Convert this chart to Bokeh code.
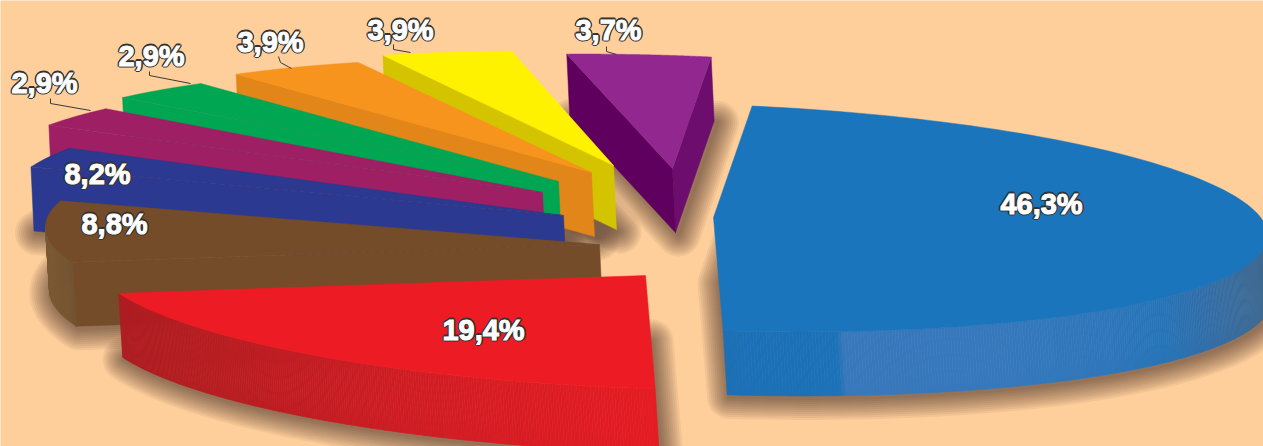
import numpy as np
from bokeh.plotting import figure
from bokeh.models import ColumnDataSource
from bokeh.core.properties import value
from bokeh.embed import file_html
from bokeh.resources import INLINE

# ---- values printed in the chart
names = ["blue", "red", "brown", "navy", "magenta", "green", "orange", "yellow", "purple"]
shares = [46.3, 19.4, 8.8, 8.2, 2.9, 2.9, 3.9, 3.9, 3.7]
# ---- sweep of each slice as drawn in the picture (degrees) and where it starts
sweep_drawn = [175, 73, 31.4, 11, 11, 11.7, 15, 14, 15]
start_angle = [86, 271, 198, 164, 153, 141.9, 129.9, 114.6, 101]

# ---- layout: exploded apex of each slice, in page pixels
apex_x = [713, 645, 599, 563, 542, 558, 591, 613, 672]
apex_y = [217, 275, 244, 215, 192, 181, 172, 165, 168]
label_x = [1041, 483, 114, 97, 44, 151, 270, 400, 608]
label_y = [203, 329, 223, 173, 82, 55, 41, 29, 29]

top_colors = ["#1B75BC", "#ED1C24", "#754C29", "#2B3990", "#9E1F63", "#00A651", "#F7941D", "#FFF200", "#92278F"]
face_colors = [None, None, "#754C29", "#2B3990", "#9E1F63", "#00A651", "#E2861A", "#D4C400", "#5F005F"]

leader_xs = [[50, 50, 90], [149, 149, 190], [278, 280, 291], [393, 393, 410], [606, 606, 616]]
leader_ys = [[98, 103, 110], [71, 75, 83], [56, 62, 68], [44, 49, 52], [46, 51, 54]]

BG = "#FECE9B"
RX, RY, SHEAR, DEPTH = 554.0, 113.0, 18.0, 64.0

p = figure(width=1263, height=446, x_range=(0, 1263), y_range=(446, 0),
           toolbar_location=None, output_backend="svg", min_border=0,
           background_fill_color=BG, border_fill_color=BG, outline_line_color=None)
p.axis.visible = False
p.grid.visible = False


def rim(ax, ay, deg):
    t = np.radians(deg)
    return ax + RX * np.cos(t), ay - RY * np.sin(t) + SHEAR * np.cos(t)


def hex2rgb(h):
    return np.array([int(h[i:i + 2], 16) for i in (1, 3, 5)], float)


def ramp(x, stops):
    xs = [s[0] for s in stops]
    cs = np.array([hex2rgb(s[1]) for s in stops])
    rgb = [np.interp(x, xs, cs[:, i]) for i in range(3)]
    return "#%02x%02x%02x" % tuple(int(round(v)) for v in rgb)


def band(ax, ay, a0, a1, stops, n):
    """Curved outer wall of a slice, as thin quads whose colour follows x."""
    th = np.linspace(a0, a1, n + 1)
    X, Y = rim(ax, ay, th)
    xs, ys, cols = [], [], []
    for i in range(n):
        xs.append([X[i], X[i + 1], X[i + 1] + 4, X[i] + 4])
        ys.append([Y[i], Y[i + 1], Y[i + 1] + DEPTH, Y[i] + DEPTH])
        cols.append(ramp((X[i] + X[i + 1]) / 2, stops))
    p.patches(xs, ys, fill_color=cols, line_color=cols, line_width=0.6)


walls = {
    "blue": (0, -89, [(722, "#1B70B6"), (835, "#1B72B9"), (842, "#3878BD"), (1000, "#3578BD"),
                      (1100, "#2E77BC"), (1160, "#2574B9"), (1200, "#2F6EAC"), (1263, "#3E6A92")]),
    "red": (198, 271, [(118, "#AE1C22"), (250, "#BC1C22"), (400, "#CF1C24"), (650, "#E51C24")]),
    "brown": (180, 198, [(45, "#7D5C37"), (60, "#785733"), (75, "#6E5030")]),
}

# soft ground shadows first, so that they fall on the background only
for i in range(len(names)):
    ax, ay = apex_x[i], apex_y[i]
    a0, a1 = start_angle[i], start_angle[i] - sweep_drawn[i]
    rx_, ry_ = rim(ax, ay, np.linspace(a0, a1, 120))
    for w in range(4, 48, 4):
        p.patch(np.r_[ax, rx_] + 6, np.r_[ay, ry_] + DEPTH + 2, fill_alpha=0,
                line_color="#2A1A0C", line_alpha=0.055, line_width=w, line_join="round")

# purple at the back, then the fan towards the viewer, blue last
for i in [8, 7, 6, 5, 4, 3, 2, 1, 0]:
    n = names[i]
    ax, ay = apex_x[i], apex_y[i]
    a0, a1 = start_angle[i], start_angle[i] - sweep_drawn[i]
    th = np.linspace(a0, a1, 120)
    rx_, ry_ = rim(ax, ay, th)
    outline_x = np.r_[ax, rx_]
    outline_y = np.r_[ay, ry_]

    # straight inner walls
    if n == "purple":
        xe, ye = rim(ax, ay, a1)
        p.patch([xe, ax, ax + 3, xe + 3], [ye, ay, ay + DEPTH, ye + DEPTH],
                fill_color="#6D0E6E", line_color="#6D0E6E", line_width=0.5)
    if face_colors[i]:
        xs0, ys0 = rim(ax, ay, a0)
        p.patch([xs0, ax, ax + 3, xs0 + 3], [ys0, ay, ay + DEPTH, ys0 + DEPTH],
                fill_color=face_colors[i], line_color=face_colors[i], line_width=0.5)
    if n in walls:
        w0, w1, stops = walls[n]
        band(ax, ay, w0, w1, stops, 60 if n == "brown" else 260)

    # top face
    p.patch(outline_x, outline_y, fill_color=top_colors[i], line_color=top_colors[i], line_width=0.5)

    # faint seam between top face and straight wall
    if face_colors[i] and face_colors[i] == top_colors[i]:
        xs0, ys0 = rim(ax, ay, a0)
        p.line([xs0, ax], [ys0, ay], line_color="#777777", line_alpha=0.25, line_width=0.7, line_dash="6 3")

p.multi_line(leader_xs, leader_ys, line_color="#3A3A3A", line_width=1)

labels = [f"{v:.1f}%".replace(".", ",") for v in shares]
text_style = dict(text="t", text_font=value("Liberation Sans"), text_font_style="bold", text_font_size="29px",
                  text_align="center", text_baseline="middle")
# dark halo round the white figures
for dx, dy in [(-1.3, 0), (1.3, 0), (0, -1.3), (0, 1.3), (-0.9, -0.9), (0.9, -0.9), (-0.9, 0.9), (0.9, 0.9)]:
    src = ColumnDataSource(dict(x=np.array(label_x) + dx, y=np.array(label_y) + dy, t=labels))
    p.text("x", "y", source=src, text_color="#333333", text_outline_color="#333333", **text_style)
src = ColumnDataSource(dict(x=label_x, y=label_y, t=labels))
p.text("x", "y", source=src, text_color="#FFFFFF", text_outline_color="#FFFFFF", **text_style)

open("out.html", "w").write(file_html(p, INLINE))
